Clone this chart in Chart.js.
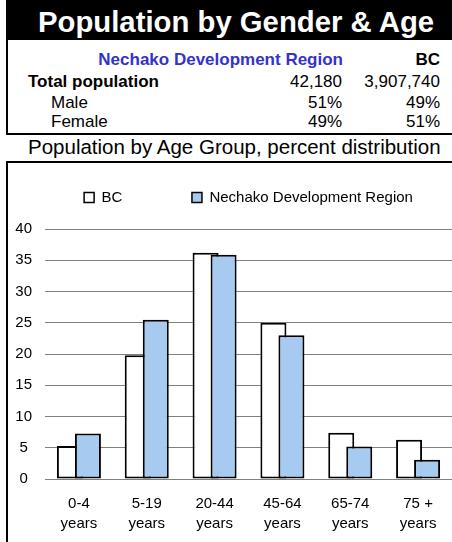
<!DOCTYPE html>
<html>
<head>
<meta charset="utf-8">
<script src="https://cdn.jsdelivr.net/npm/chart.js@4.4.1/dist/chart.umd.min.js"></script>
<style>
  body { margin: 0; background: #fff; font-family: "Liberation Sans", Arial, sans-serif; }
  #page { position: relative; width: 452px; height: 542px; overflow: hidden; }
  .abs { position: absolute; white-space: nowrap; }
  .rule { position: absolute; background: #000; }
  .row { position: absolute; font-size: 17px; line-height: 20px; white-space: nowrap; }
  .b { font-weight: bold; }
  .r { text-align: right; }
</style>
</head>
<body>
<div id="page">
  <div class="rule" style="left:6px;top:0;width:446px;height:40px;"></div>
  <div class="abs b" style="left:38px;top:2px;font-size:29.3px;line-height:40px;color:#fff;">Population by Gender &amp; Age</div>

  <div class="row b r" style="right:109px;top:50px;color:#3333cc;">Nechako Development Region</div>
  <div class="row b r" style="right:12px;top:50px;">BC</div>

  <div class="row b" style="left:28px;top:72px;">Total population</div>
  <div class="row r" style="right:110px;top:72px;">42,180</div>
  <div class="row r" style="right:12px;top:72px;">3,907,740</div>

  <div class="row" style="left:51px;top:93px;">Male</div>
  <div class="row r" style="right:110px;top:93px;">51%</div>
  <div class="row r" style="right:12px;top:93px;">49%</div>

  <div class="row" style="left:51px;top:112px;">Female</div>
  <div class="row r" style="right:110px;top:112px;">49%</div>
  <div class="row r" style="right:12px;top:112px;">51%</div>

  <div class="rule" style="left:6px;top:133px;width:446px;height:2px;"></div>
  <div class="abs" style="left:28px;top:135px;font-size:20.5px;line-height:24px;">Population by Age Group, percent distribution</div>
  <div class="rule" style="left:6px;top:161px;width:446px;height:2px;"></div>

  <div class="rule" style="left:6px;top:40px;width:2px;height:95px;"></div>
  <div class="rule" style="left:6px;top:161px;width:2px;height:381px;"></div>

  <canvas id="ageChart" width="444" height="379" style="position:absolute;left:8px;top:163px;"></canvas>
</div>
<script>
var ageGroups = [['0-4', 'years'], ['5-19', 'years'], ['20-44', 'years'], ['45-64', 'years'], ['65-74', 'years'], ['75 +', 'years']];
var bcValues = [5.3, 19.8, 36.2, 25.0, 7.4, 6.3];
var nechakoValues = [7.3, 25.5, 35.9, 23.0, 5.2, 3.1];
var yTicks = [0, 5, 10, 15, 20, 25, 30, 35, 40];

Chart.defaults.font.family = '"Liberation Sans", Arial, sans-serif';
Chart.defaults.font.size = 15;
Chart.defaults.color = '#000';

// draw datasets in index order so the blue bars sit on top of the white ones
var drawInOrder = {
	id: 'drawInOrder',
	beforeDatasetsDraw: function (chart) {
		var area = chart.chartArea, ctx = chart.ctx;
		ctx.save();
		ctx.beginPath();
		ctx.rect(area.left, area.top - 4, area.right - area.left, area.bottom - area.top + 8);
		ctx.clip();
		for (var i = 0; i < chart.data.datasets.length; i++) {
			chart.getDatasetMeta(i).controller.draw();
		}
		ctx.restore();
		return false;
	}
};

// extra room under the legend
var legendGap = {
	id: 'legendGap',
	beforeInit: function (chart) {
		var fit = chart.legend.fit;
		chart.legend.fit = function () {
			fit.call(this);
			this.height += 14;
		};
	}
};

var ctxB = document.getElementById('ageChart').getContext('2d');
var ageChart = new Chart(ctxB, {
	type: 'bar',
	data: {
		labels: ageGroups,
		datasets: [
			{
				label: 'BC',
				data: bcValues,
				backgroundColor: '#ffffff',
				borderColor: '#000000',
				borderWidth: 2,
				borderSkipped: false
			},
			{
				label: 'Nechako Development Region',
				data: nechakoValues,
				backgroundColor: '#a6caf0',
				borderColor: '#000000',
				borderWidth: 2,
				borderSkipped: false
			}
		]
	},
	options: {
		responsive: false,
		animation: false,
		categoryPercentage: 0.531,
		barPercentage: 1.444,
		layout: { padding: { top: 1, bottom: 10, left: 0, right: 0 } },
		plugins: {
			legend: {
				position: 'top',
				fullSize: false,
				labels: {
					boxWidth: 10,
					boxHeight: 10,
					padding: 26,
					font: { size: 15 },
					generateLabels: function (chart) {
						var items = Chart.defaults.plugins.legend.labels.generateLabels(chart);
						items.forEach(function (it) { it.lineWidth = 1.5; });
						// blank entry keeps the two keys apart like the original
						items.splice(1, 0, {
							text: '',
							fillStyle: 'rgba(0,0,0,0)',
							strokeStyle: 'rgba(0,0,0,0)',
							lineWidth: 0,
							hidden: false,
							datasetIndex: -1
						});
						return items;
					}
				}
			},
			tooltip: { enabled: false }
		},
		scales: {
			x: {
				afterFit: function (scale) {
					scale.height = 53;
				},
				grid: { display: false, drawTicks: false },
				border: { display: false },
				ticks: {
					padding: 15,
					maxRotation: 0,
					autoSkip: false,
					font: { size: 15, lineHeight: 1.34 }
				}
			},
			y: {
				min: 0,
				max: 40,
				afterBuildTicks: function (scale) {
					scale.ticks = yTicks.map(function (v) { return { value: v }; });
				},
				afterFit: function (scale) {
					scale.width = 37;
				},
				grid: { color: '#808080', lineWidth: 1, drawTicks: false },
				border: { display: false },
				ticks: {
					padding: 13,
					autoSkip: false,
					crossAlign: 'center',
					font: { size: 15 }
				}
			}
		}
	},
	plugins: [drawInOrder, legendGap]
});
</script>
</body>
</html>
